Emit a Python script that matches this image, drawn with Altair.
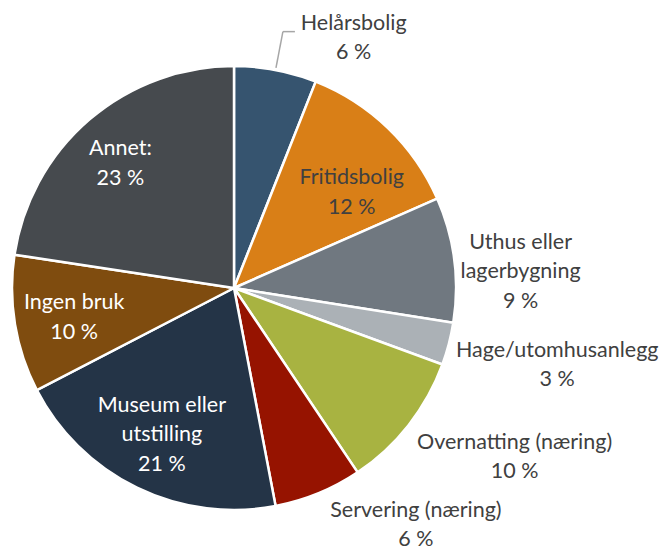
import math
import altair as alt
import pandas as pd

categories = ["Helårsbolig", "Fritidsbolig", "Uthus eller lagerbygning",
              "Hage/utomhusanlegg", "Overnatting (næring)", "Servering (næring)",
              "Museum eller utstilling", "Ingen bruk", "Annet:"]
values = [6.0, 12.4, 9.1, 3.1, 10.0, 6.4, 20.4, 10.0, 22.6]
percents = [6, 12, 9, 3, 10, 6, 21, 10, 23]
name_lines = ["Helårsbolig", "Fritidsbolig", "Uthus eller\nlagerbygning",
              "Hage/utomhusanlegg", "Overnatting (næring)", "Servering (næring)",
              "Museum eller\nutstilling", "Ingen bruk", "Annet:"]
colors = ["#36546F", "#D97F17", "#707880", "#ABB1B6", "#A8B341",
          "#961300", "#243447", "#7F4C0F", "#464A4E"]

labels = [f"{n}\n{p} %" for n, p in zip(name_lines, percents)]

W, H = 653, 543
CX, CY, R = 226, 280, 222
DARK = "#404040"
LIGHT = "#FFFFFF"
FONT = "Lato"
FS = 21.5
LH = 29.5

# label placement: (radius, dx, dy, colour)
placement = {
    "Helårsbolig": (260, 71, 6, DARK),
    "Fritidsbolig": (151, 13, 14, DARK),
    "Uthus eller lagerbygning": (285, 4, 21, DARK),
    "Hage/utomhusanlegg": (335, -1, -7, DARK),
    "Overnatting (næring)": (320, 29, -28, DARK),
    "Servering (næring)": (300, 68, -40, DARK),
    "Museum eller utstilling": (165, 0, -1, LIGHT),
    "Ingen bruk": (165, 3, 3, LIGHT),
    "Annet:": (165, -6, 1, LIGHT),
}

df = pd.DataFrame({"cat": categories, "value": values,
                   "order": list(range(len(categories))), "label": labels})

base = alt.Chart(df).encode(
    theta=alt.Theta("value:Q", stack=True),
    order=alt.Order("order:Q"),
)

pie = base.mark_arc(outerRadius=R, x=CX, y=CY, stroke="white", strokeWidth=2.5).encode(
    color=alt.Color("cat:N", scale=alt.Scale(domain=categories, range=colors), legend=None)
)

layers = [pie]
for name, lab in zip(categories, labels):
    r, dx, dy, col = placement[name]
    nlines = lab.count("\n") + 1
    t = base.mark_text(
        radius=r, dx=dx, dy=dy - (nlines - 1) * LH / 2, x=CX, y=CY,
        font=FONT, fontSize=FS, color=col,
        lineBreak="\n", lineHeight=LH, align="center", baseline="middle",
    ).encode(
        text=alt.condition(alt.datum.cat == name, alt.Text("label:N"), alt.value(""))
    )
    layers.append(t)

# leader line for Helårsbolig, from slice edge along its mid angle
mid = math.radians(values[0] / sum(values) * 360 / 2)
x0, y0 = CX + (R + 2) * math.sin(mid), CY - (R + 2) * math.cos(mid)
x1, y1 = CX + (R + 39) * math.sin(mid), CY - (R + 39) * math.cos(mid)
one = pd.DataFrame({"a": [0]})
lead1 = alt.Chart(one).mark_rule(color="#A6A6A6", strokeWidth=1.5).encode(
    x=alt.value(x0), y=alt.value(y0), x2=alt.value(x1), y2=alt.value(y1))
lead2 = alt.Chart(one).mark_rule(color="#A6A6A6", strokeWidth=1.5).encode(
    x=alt.value(x1), y=alt.value(y1), x2=alt.value(x1 + 12), y2=alt.value(y1))
layers += [lead1, lead2]

chart = alt.layer(*layers).properties(
    width=W, height=H, autosize=alt.AutoSizeParams(type="none"), padding=0,
    background="white",
).configure_view(stroke=None)

chart.save("out.html", embed_options={"renderer": "svg", "actions": False})
